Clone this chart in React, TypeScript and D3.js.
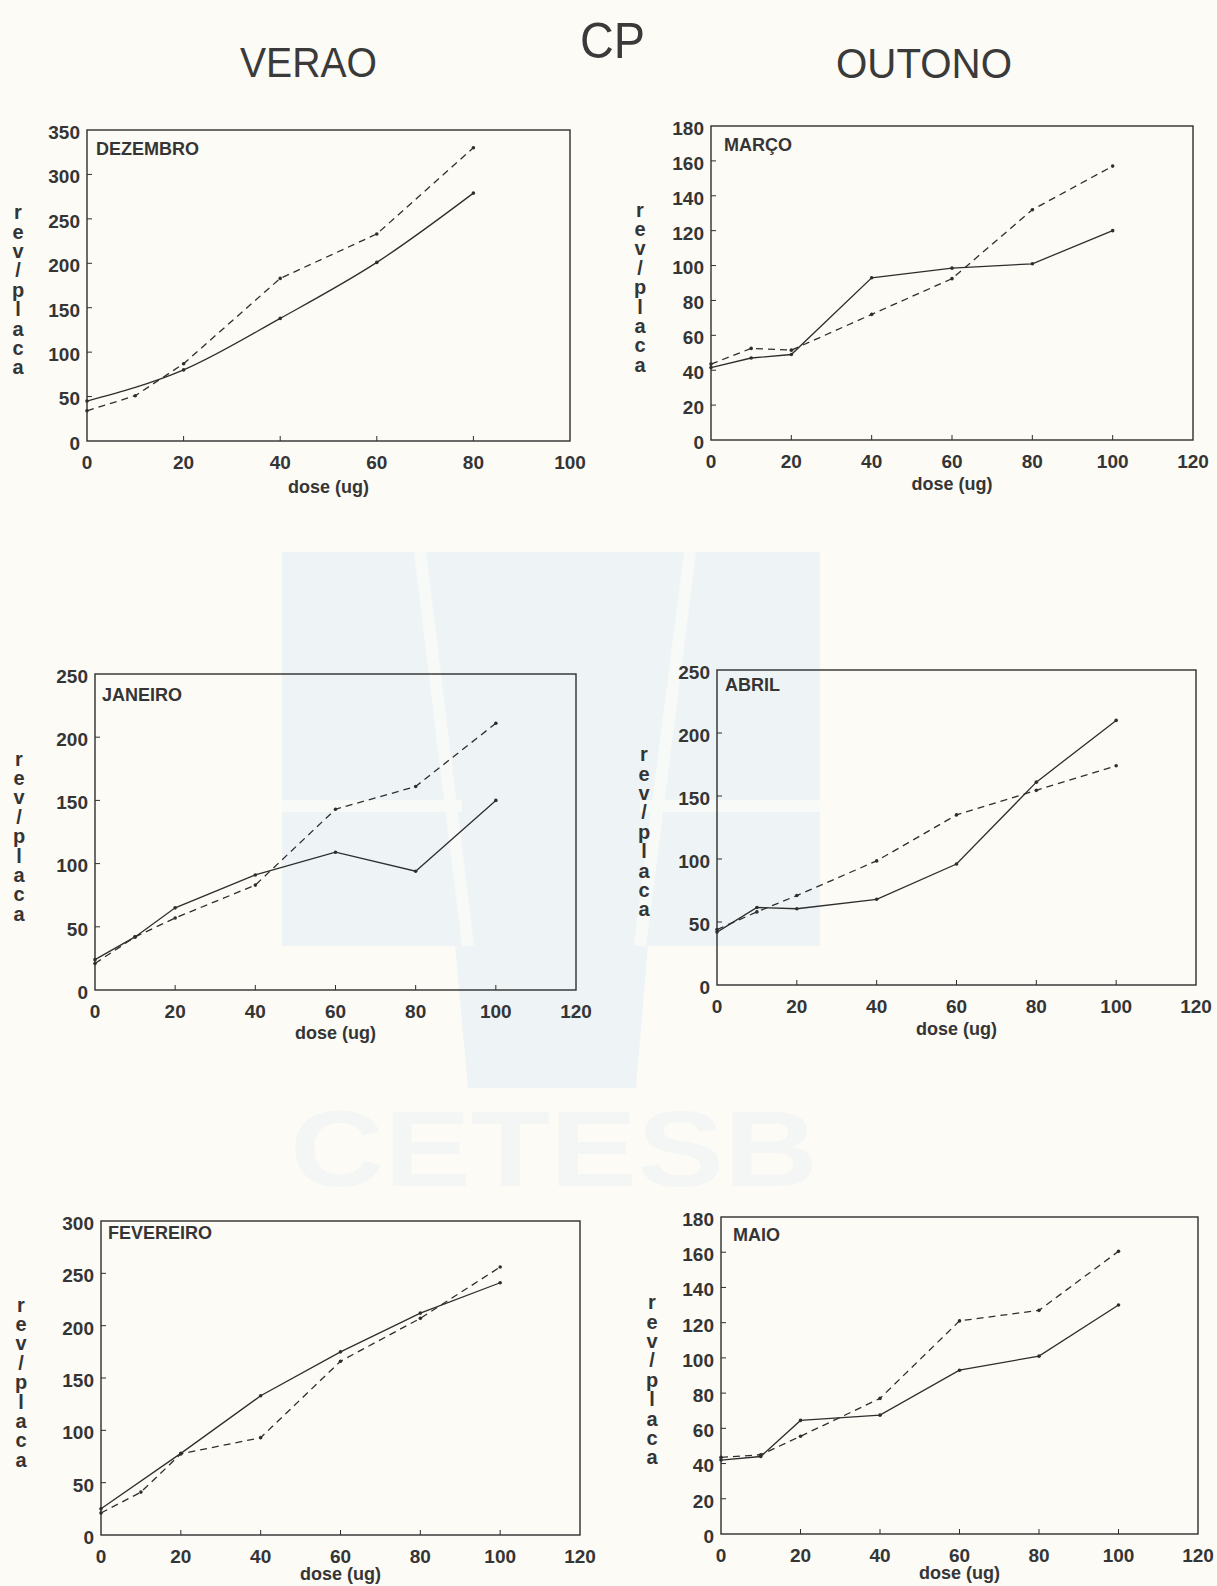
import * as d3 from 'd3';

// doses (ug) used in most panels
const doses = [0, 10, 20, 40, 60, 80, 100];

// VERAO
const dezSolidX = [0, 20, 40, 60, 80];
const dezSolid = [45, 80, 138, 201, 279];
const dezDashX = [0, 10, 20, 40, 60, 80];
const dezDash = [34, 51, 87, 183, 233, 330];

const janSolid = [24, 42, 65, 91, 109, 94, 150];
const janDash = [21, 42, 57, 83, 143, 161, 211];

const fevSolidX = [0, 20, 40, 60, 80, 100];
const fevSolid = [25, 78, 133, 175, 212, 241];
const fevDash = [21, 41, 77.5, 93, 166, 207, 256];

// OUTONO
const marSolid = [41.5, 47, 49, 93, 98.5, 101, 120];
const marDash = [43.5, 52.5, 51.5, 72, 92.5, 132, 157];

const abrSolid = [42, 61.5, 60.5, 68, 96, 161, 210];
const abrDash = [44, 58, 71, 98.5, 135, 154.5, 174];

const maiSolid = [42, 44, 64.5, 67.5, 93, 101, 130];
const maiDash = [43.5, 45, 55.5, 77, 121, 127, 160.5];

const xTicks100 = [0, 20, 40, 60, 80, 100];
const xTicks120 = [0, 20, 40, 60, 80, 100, 120];
const yTicks350 = [0, 50, 100, 150, 200, 250, 300, 350];
const yTicks300 = [0, 50, 100, 150, 200, 250, 300];
const yTicks250 = [0, 50, 100, 150, 200, 250];
const yTicks180 = [0, 20, 40, 60, 80, 100, 120, 140, 160, 180];

const yLabel = 'rev/placa'.split('');

const ink = '#2e2e2e';
const textInk = '#353535';
const font = '"Liberation Sans", Arial, Helvetica, sans-serif';

type Series = { xs: number[]; ys: number[]; dashed: boolean; curve?: boolean };

interface PanelDef {
  name: string;
  x0: number;
  x1: number;
  yTop: number;
  yBot: number;
  xTicks: number[];
  yTicks: number[];
  labelX: number;
  nameDx: number;
  nameDy: number;
  doseDy: number;
  series: Series[];
}

const panels: PanelDef[] = [
  {
    name: 'DEZEMBRO', x0: 87, x1: 570, yTop: 130, yBot: 441,
    xTicks: xTicks100, yTicks: yTicks350, labelX: 18, nameDx: 9, nameDy: 25, doseDy: 52,
    series: [
      { xs: dezSolidX, ys: dezSolid, dashed: false, curve: true },
      { xs: dezDashX, ys: dezDash, dashed: true },
    ],
  },
  {
    name: 'MARÇO', x0: 711, x1: 1193, yTop: 126, yBot: 440,
    xTicks: xTicks120, yTicks: yTicks180, labelX: 640, nameDx: 13, nameDy: 25, doseDy: 50,
    series: [
      { xs: doses, ys: marSolid, dashed: false },
      { xs: doses, ys: marDash, dashed: true },
    ],
  },
  {
    name: 'JANEIRO', x0: 95, x1: 576, yTop: 674, yBot: 990,
    xTicks: xTicks120, yTicks: yTicks250, labelX: 19, nameDx: 7, nameDy: 27, doseDy: 49,
    series: [
      { xs: doses, ys: janSolid, dashed: false },
      { xs: doses, ys: janDash, dashed: true },
    ],
  },
  {
    name: 'ABRIL', x0: 717, x1: 1196, yTop: 670, yBot: 985,
    xTicks: xTicks120, yTicks: yTicks250, labelX: 644, nameDx: 8, nameDy: 21, doseDy: 50,
    series: [
      { xs: doses, ys: abrSolid, dashed: false },
      { xs: doses, ys: abrDash, dashed: true },
    ],
  },
  {
    name: 'FEVEREIRO', x0: 101, x1: 580, yTop: 1221, yBot: 1535,
    xTicks: xTicks120, yTicks: yTicks300, labelX: 21, nameDx: 7, nameDy: 18, doseDy: 45,
    series: [
      { xs: fevSolidX, ys: fevSolid, dashed: false },
      { xs: doses, ys: fevDash, dashed: true },
    ],
  },
  {
    name: 'MAIO', x0: 721, x1: 1198, yTop: 1217, yBot: 1534,
    xTicks: xTicks120, yTicks: yTicks180, labelX: 652, nameDx: 12, nameDy: 24, doseDy: 45,
    series: [
      { xs: doses, ys: maiSolid, dashed: false },
      { xs: doses, ys: maiDash, dashed: true },
    ],
  },
];

function Panel({ p }: { p: PanelDef }) {
  const xMax = p.xTicks[p.xTicks.length - 1];
  const yMax = p.yTicks[p.yTicks.length - 1];
  const x = d3.scaleLinear().domain([0, xMax]).range([p.x0, p.x1]);
  const y = d3.scaleLinear().domain([0, yMax]).range([p.yBot, p.yTop]);
  const mid = (p.yTop + p.yBot) / 2 + 4;

  return (
    <g>
      <rect
        x={p.x0}
        y={p.yTop}
        width={p.x1 - p.x0}
        height={p.yBot - p.yTop}
        fill="none"
        stroke={ink}
        strokeWidth={1.4}
      />
      {/* y ticks (inward) + labels */}
      {p.yTicks.map((t) => (
        <g key={'y' + t}>
          {t > 0 && t < yMax && (
            <line x1={p.x0} x2={p.x0 + 5} y1={y(t)} y2={y(t)} stroke={ink} strokeWidth={1} />
          )}
          <text
            x={p.x0 - 7}
            y={y(t) + 2}
            dy="0.36em"
            textAnchor="end"
            fontSize={19}
            fontWeight="bold"
            fill={textInk}
          >
            {t}
          </text>
        </g>
      ))}
      {/* x ticks (inward) + labels */}
      {p.xTicks.map((t) => (
        <g key={'x' + t}>
          {t > 0 && t < xMax && (
            <line x1={x(t)} x2={x(t)} y1={p.yBot} y2={p.yBot - 5} stroke={ink} strokeWidth={1} />
          )}
          <text x={x(t)} y={p.yBot + 28} textAnchor="middle" fontSize={19} fontWeight="bold" fill={textInk}>
            {t}
          </text>
        </g>
      ))}
      <text
        x={(p.x0 + p.x1) / 2}
        y={p.yBot + p.doseDy}
        textAnchor="middle"
        fontSize={18}
        fontWeight="bold"
        fill={textInk}
      >
        dose (ug)
      </text>
      {yLabel.map((c, i) => (
        <text
          key={'l' + i}
          x={p.labelX}
          y={mid + (i - 4) * 19.4}
          dy="0.36em"
          textAnchor="middle"
          fontSize={20}
          fontWeight="bold"
          fill={textInk}
        >
          {c}
        </text>
      ))}
      <text x={p.x0 + p.nameDx} y={p.yTop + p.nameDy} fontSize={18} fontWeight="bold" fill={textInk}>
        {p.name}
      </text>
      {p.series.map((s, si) => {
        const pts = s.xs.map((d, i) => [d, s.ys[i]] as [number, number]);
        const line = d3
          .line<[number, number]>()
          .x((d) => x(d[0]))
          .y((d) => y(d[1]))
          .curve(s.curve ? d3.curveMonotoneX : d3.curveLinear);
        return (
          <g key={'s' + si}>
            <path
              d={line(pts) ?? ''}
              fill="none"
              stroke={ink}
              strokeWidth={1.3}
              strokeDasharray={s.dashed ? '7,5' : undefined}
            />
            {pts.map((d, i) => (
              <circle key={i} cx={x(d[0])} cy={y(d[1])} r={1.8} fill={ink} />
            ))}
          </g>
        );
      })}
    </g>
  );
}

export default function App() {
  return (
    <div style={{ position: 'absolute', left: 0, top: 0 }}>
      <svg width={1217} height={1586} style={{ display: 'block', background: '#fcfbf6', fontFamily: font }}>
        {/* faint watermark */}
        <g fill="#eef4f5">
          <rect x={282} y={552} width={538} height={394} />
          <polygon points="455,946 648,946 636,1088 468,1088" />
        </g>
        <g stroke="#f8faf7" strokeWidth={12}>
          <line x1={420} y1={552} x2={468} y2={946} />
          <line x1={690} y1={552} x2={640} y2={946} />
          <line x1={282} y1={806} x2={462} y2={806} />
          <line x1={640} y1={806} x2={820} y2={806} />
        </g>
        <text
          x={290}
          y={1186}
          fontSize={108}
          fontWeight="bold"
          fill="#f3f6f4"
          textLength={528}
          lengthAdjust="spacingAndGlyphs"
        >
          CETESB
        </text>

        <text x={580} y={58} fontSize={50} fill="#3a3a3a" textLength={65} lengthAdjust="spacingAndGlyphs">
          CP
        </text>
        <text x={240} y={77} fontSize={42} fill="#3a3a3a" textLength={137} lengthAdjust="spacingAndGlyphs">
          VERAO
        </text>
        <text x={836} y={78} fontSize={42} fill="#3a3a3a" textLength={176} lengthAdjust="spacingAndGlyphs">
          OUTONO
        </text>

        {panels.map((p) => (
          <Panel key={p.name} p={p} />
        ))}
      </svg>
    </div>
  );
}
